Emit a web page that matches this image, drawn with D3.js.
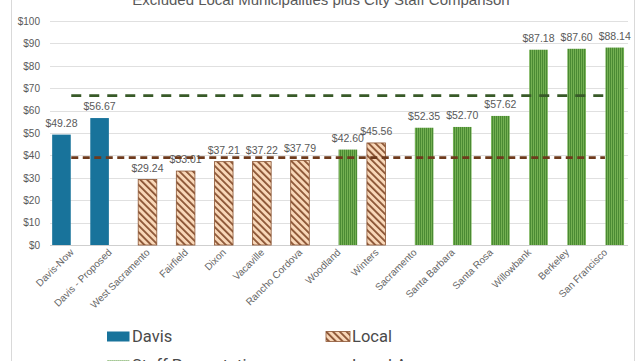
<!DOCTYPE html>
<html><head><meta charset="utf-8">
<script src="https://cdn.jsdelivr.net/npm/d3@7/dist/d3.min.js"></script>
<style>html,body{margin:0;padding:0;background:#fff;overflow:hidden}</style>
</head><body>
<svg id="c" width="642" height="361"></svg>
<script>
const categories = ["Davis-Now","Davis - Proposed","West Sacramento","Fairfield","Dixon","Vacaville","Rancho Cordova","Woodland","Winters","Sacramento","Santa Barbara","Santa Rosa","Willowbank","Berkeley","San Francisco"];
const seriesOf = ["Davis","Davis","Local","Local","Local","Local","Local","Staff","Local","Staff","Staff","Staff","Staff","Staff","Staff"];
const values = [49.28,56.67,29.24,33.01,37.21,37.22,37.79,42.60,45.56,52.35,52.70,57.62,87.18,87.60,88.14];
const staffAverage = 66.7;
const localAverage = 39.0;
const yTicks = [0,10,20,30,40,50,60,70,80,90,100];
const title = "Excluded Local Municipalities plus City Staff Comparison";
const legendItems = [["Davis","Local"],["Staff Presentation","Local Average"]];

const svg = d3.select("#c");
const defs = svg.append("defs");
// Local pattern
const pl = defs.append("pattern").attr("id","pLocal").attr("patternUnits","userSpaceOnUse")
  .attr("width",4.8).attr("height",4.8).attr("patternTransform","rotate(-45)");
pl.append("rect").attr("width",4.8).attr("height",4.8).attr("fill","#f8d7b8");
pl.append("rect").attr("width",1.8).attr("height",4.8).attr("fill","#8a5333");
// Staff pattern
const ps = defs.append("pattern").attr("id","pStaff").attr("patternUnits","userSpaceOnUse")
  .attr("width",2).attr("height",2);
ps.append("rect").attr("width",2).attr("height",2).attr("fill","#74b052");
ps.append("rect").attr("width",1).attr("height",2).attr("fill","#4a8a33");

const fills = {Davis:"#18739b", Local:"url(#pLocal)", Staff:"url(#pStaff)"};
const strokes = {Davis:"none", Local:"#8a5432", Staff:"none"};
const offs = {Davis:-9.8, Local:0, Staff:9.8};

// border
svg.append("line").attr("x1",11.5).attr("x2",11.5).attr("y1",0).attr("y2",361).attr("stroke","#d9d9d9");
svg.append("line").attr("x1",634.5).attr("x2",634.5).attr("y1",0).attr("y2",361).attr("stroke","#d9d9d9");

// title
svg.append("text").attr("x",321).attr("y",5).attr("text-anchor","middle")
  .attr("font-family","Liberation Sans, Arial, sans-serif").attr("font-size",15).attr("fill","#595959").text(title);

const x = d3.scaleBand().domain(categories).range([52.2,624]).padding(0);
const y = d3.scaleLinear().domain([0,100]).range([245,21]);

// gridlines
svg.append("g").selectAll("line").data(yTicks).join("line")
  .attr("x1",50).attr("x2",628).attr("y1",d=>Math.round(y(d))+0.5).attr("y2",d=>Math.round(y(d))+0.5)
  .attr("stroke",d=>d===0?"#cfcfcf":"#e0e0e0").attr("stroke-width",1);

// y axis labels
const yAxis = d3.axisLeft(y).tickValues(yTicks).tickFormat(d=>"$"+d).tickSize(0).tickPadding(0);
const ga = svg.append("g").attr("transform","translate(40,0)").call(yAxis);
ga.select(".domain").remove();
ga.selectAll("text").attr("font-family","Liberation Sans, Arial, sans-serif").attr("font-size",10).attr("fill","#595959");

// bars
const data = categories.map((c,i)=>({c, s:seriesOf[i], v:values[i]}));
const bw = 18.6;
const cx = d=>x(d.c)+x.bandwidth()/2+offs[d.s];
svg.append("g").selectAll("rect").data(data).join("rect")
  .attr("x",d=>cx(d)-bw/2).attr("width",bw)
  .attr("y",d=>y(d.v)).attr("height",d=>y(0)-y(d.v))
  .attr("fill",d=>fills[d.s]).attr("stroke",d=>strokes[d.s]).attr("stroke-width",0.8);

// data labels
svg.append("g").selectAll("text").data(data).join("text")
  .attr("x",cx).attr("y",d=>y(d.v)-8).attr("text-anchor","middle")
  .attr("font-family","Liberation Sans, Arial, sans-serif").attr("font-size",10.5).attr("fill","#595959")
  .text(d=>"$"+d.v.toFixed(2));

// average lines
const c0 = x(categories[0])+x.bandwidth()/2, cN = x(categories[categories.length-1])+x.bandwidth()/2;
svg.append("line").attr("x1",c0).attr("x2",cN).attr("y1",y(staffAverage)).attr("y2",y(staffAverage))
  .attr("stroke","#385a28").attr("stroke-width",2.8).attr("stroke-dasharray","10,8");
svg.append("line").attr("x1",c0).attr("x2",cN).attr("y1",y(localAverage)).attr("y2",y(localAverage))
  .attr("stroke","#6e3a1c").attr("stroke-width",2.8).attr("stroke-dasharray","7,4.5");

// x labels
svg.append("g").selectAll("text").data(categories).join("text")
  .attr("transform",d=>`translate(${x(d)+x.bandwidth()/2+3},253) rotate(-45)`)
  .attr("text-anchor","end")
  .attr("font-family","Liberation Sans, Arial, sans-serif").attr("font-size",10).attr("fill","#666666")
  .text(d=>d);

// legend
const lx = [107, 326], ly = [331.5, 360.5];
const legFill = {"Davis":fills.Davis,"Local":fills.Local,"Staff Presentation":fills.Staff};
legendItems.forEach((row,r)=>row.forEach((name,k)=>{
  const g = svg.append("g");
  if (name==="Local Average") {
    g.append("line").attr("x1",lx[k]).attr("x2",lx[k]+23).attr("y1",ly[r]+5).attr("y2",ly[r]+5)
      .attr("stroke","#6e3a1c").attr("stroke-width",2.8).attr("stroke-dasharray","7,4.5");
  } else {
    g.append("rect").attr("x",lx[k]).attr("y",ly[r]).attr("width",name==="Local"?24:22.5).attr("height",10)
      .attr("fill",legFill[name]).attr("stroke",name==="Local"?"#8a5432":"none").attr("stroke-width",0.8);
  }
  g.append("text").attr("x",lx[k]+(k===0?25:26)).attr("y",ly[r]+10.3)
    .attr("font-family","Roboto, sans-serif").attr("font-size",16.5).attr("fill","#4a4a4a").text(name);
}));
</script>
</body></html>
